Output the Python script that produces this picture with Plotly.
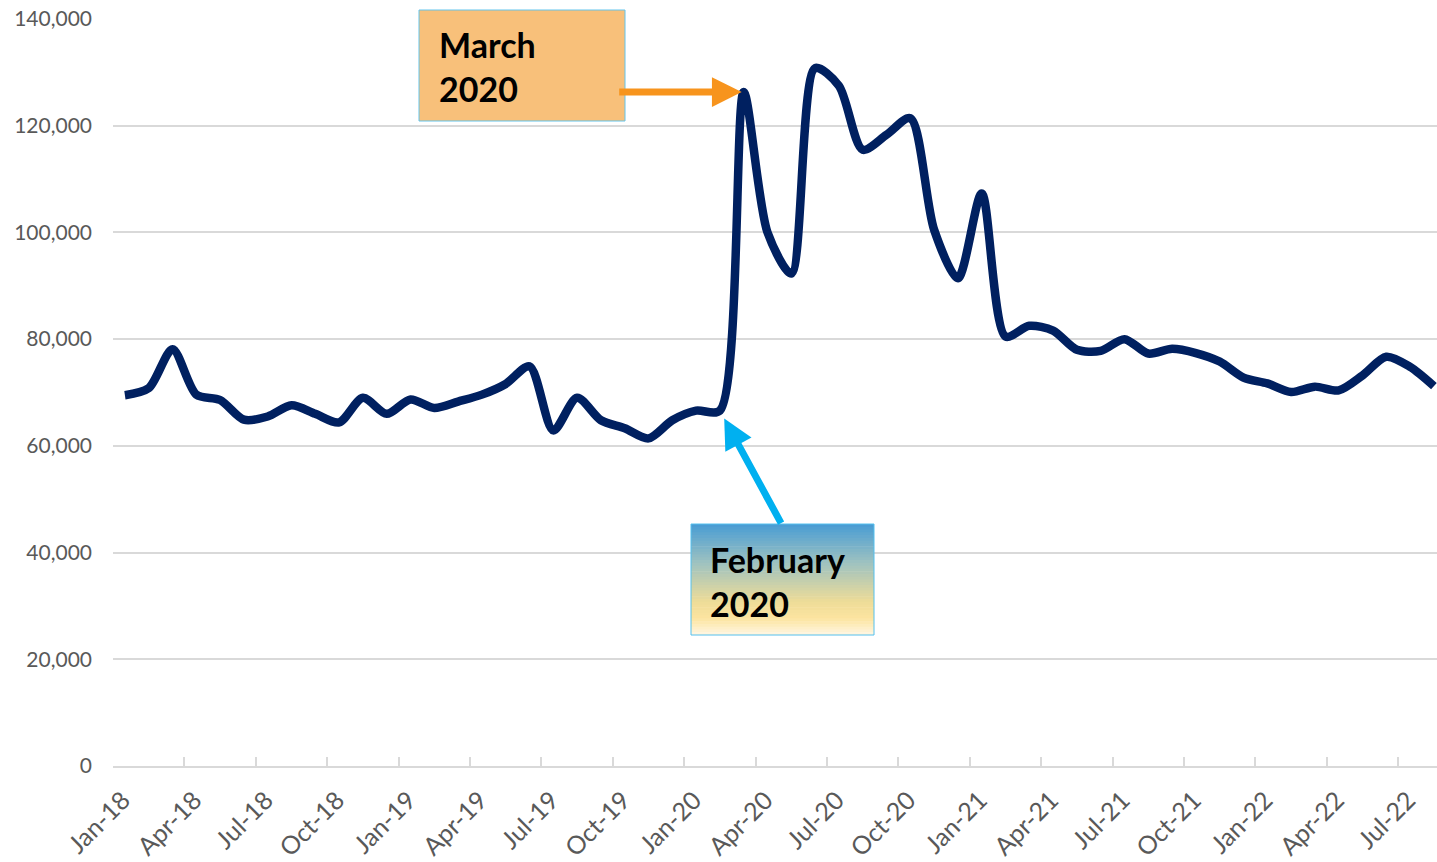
import plotly.graph_objects as go

months = ["Jan-18","Feb-18","Mar-18","Apr-18","May-18","Jun-18","Jul-18","Aug-18","Sep-18","Oct-18","Nov-18","Dec-18",
          "Jan-19","Feb-19","Mar-19","Apr-19","May-19","Jun-19","Jul-19","Aug-19","Sep-19","Oct-19","Nov-19","Dec-19",
          "Jan-20","Feb-20","Mar-20","Apr-20","May-20","Jun-20","Jul-20","Aug-20","Sep-20","Oct-20","Nov-20","Dec-20",
          "Jan-21","Feb-21","Mar-21","Apr-21","May-21","Jun-21","Jul-21","Aug-21","Sep-21","Oct-21","Nov-21","Dec-21",
          "Jan-22","Feb-22","Mar-22","Apr-22","May-22","Jun-22","Jul-22","Aug-22"]
values = [69500, 70800, 78100, 69600, 68600, 64900, 65500, 67600, 66000, 64400, 69000, 66000,
          68700, 67100, 68300, 69600, 71600, 74900, 62900, 69000, 64800, 63300, 61400, 64800,
          66600, 66600, 126300, 100000, 92300, 130800, 127500, 115500, 118300, 121400, 100500, 91400,
          107300, 80500, 82500, 81600, 78000, 77800, 80000, 77300, 78200, 77400, 75800, 72800,
          71700, 70100, 71100, 70400, 73200, 76700, 74800, 71200]
tick_labels = months[::3]

x = [i + 0.5 for i in range(len(months))]
tickvals = list(range(0, len(months), 3))

W, H = 1437, 862
L, R, T, B = 113, 0, 19, 96
PW, PH = W - L - R, H - T - B

def px(xp):
    return (xp - L) / PW

def py(yp):
    return (H - B - yp) / PH

FONT = "Lato, 'Open Sans', sans-serif"
GRID = "#d9d9d9"

fig = go.Figure()
fig.add_trace(go.Scatter(
    x=x, y=values, mode="lines",
    line=dict(color="#002060", width=8.5, shape="spline", smoothing=0.8),
    hoverinfo="skip", showlegend=False,
))

shapes = []
# March box
shapes.append(dict(type="rect", xref="paper", yref="paper",
                   x0=px(419), x1=px(625), y0=py(121), y1=py(10),
                   fillcolor="#F8C07A", line=dict(color="#62C4EC", width=1), layer="above"))

# February box gradient
stops = [(0.0, (72, 156, 212)), (0.35, (158, 194, 192)), (0.7, (238, 220, 152)),
         (0.85, (252, 228, 160)), (1.0, (255, 247, 228))]

def grad(t):
    for (t0, c0), (t1, c1) in zip(stops[:-1], stops[1:]):
        if t0 <= t <= t1:
            f = (t - t0) / (t1 - t0)
            return "rgb(%d,%d,%d)" % tuple(round(a + (b - a) * f) for a, b in zip(c0, c1))
    return "rgb(%d,%d,%d)" % stops[-1][1]

ftop, fbot = 524, 635
n = 40
for k in range(n):
    y0p = ftop + (fbot - ftop) * k / n
    y1p = ftop + (fbot - ftop) * (k + 1) / n + 0.6
    shapes.append(dict(type="rect", xref="paper", yref="paper",
                       x0=px(691), x1=px(874), y0=py(min(y1p, fbot)), y1=py(y0p),
                       fillcolor=grad((k + 0.5) / n), line=dict(width=0), layer="above"))
shapes.append(dict(type="rect", xref="paper", yref="paper",
                   x0=px(691), x1=px(874), y0=py(fbot), y1=py(ftop),
                   fillcolor="rgba(0,0,0,0)", line=dict(color="#55C0EE", width=1), layer="above"))

annotations = [
    dict(xref="paper", yref="paper", x=px(437), y=py(66), xanchor="left", yanchor="middle",
         text="<b>March</b><br><b>2020</b>", align="left", showarrow=False,
         font=dict(family=FONT, size=34, color="#000000")),
    dict(xref="paper", yref="paper", x=px(708), y=py(581), xanchor="left", yanchor="middle",
         text="<b>February</b><br><b>2020</b>", align="left", showarrow=False,
         font=dict(family=FONT, size=34, color="#000000")),
    # orange arrow to March 2020
    dict(x=x[26], y=values[26], xref="x", yref="y", text="", showarrow=True,
         ax=-126, ay=0, arrowcolor="#F7941D", arrowwidth=7, arrowhead=2, arrowsize=0.85,
         standoff=2),
    # blue arrow to February 2020
    dict(x=x[25], y=values[25], xref="x", yref="y", text="", showarrow=True,
         ax=62, ay=114, arrowcolor="#00B0F0", arrowwidth=7, arrowhead=2, arrowsize=0.85,
         standoff=9),
]

fig.update_layout(
    width=W, height=H,
    margin=dict(l=L, r=R, t=T, b=B),
    paper_bgcolor="white", plot_bgcolor="white",
    font=dict(family=FONT, color="#595959"),
    shapes=shapes, annotations=annotations,
    xaxis=dict(
        range=[0, PW / 23.8], tickmode="array", tickvals=tickvals, ticktext=tick_labels,
        tickangle=-45, tickfont=dict(size=25, color="#595959"),
        showgrid=False, zeroline=False,
        showline=True, linecolor=GRID, linewidth=1.5,
        ticks="inside", ticklen=9, tickcolor=GRID, tickwidth=1.5,
        ticklabelstandoff=8, ticklabelshift=10,
    ),
    yaxis=dict(
        range=[0, 140000], tickmode="linear", tick0=0, dtick=20000, tickformat=",",
        tickfont=dict(size=21, color="#595959"),
        showgrid=True, gridcolor=GRID, gridwidth=1.5,
        zeroline=False, showline=False, ticks="", ticklabelstandoff=20,
    ),
)

fig.write_html("out.html", post_script="document.body.style.margin='0';",
               config={"displayModeBar": False})
